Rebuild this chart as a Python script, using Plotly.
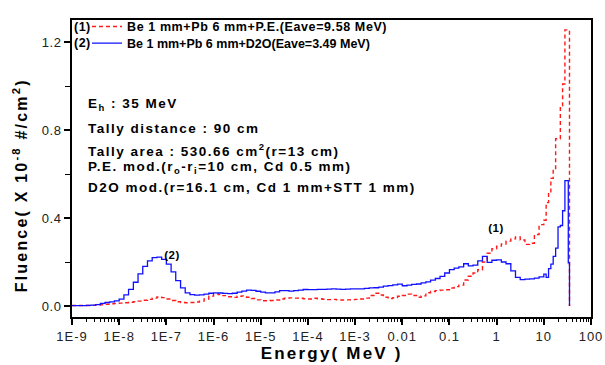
import plotly.graph_objects as go

# ---------------- data ----------------
# lower bin edges in MeV (histogram steps), last entry closes the spectrum at 35 MeV
energy_mev = [
    1.00e-9, 1.26e-9, 1.58e-9, 2.00e-9, 2.51e-9, 3.16e-9, 3.98e-9, 5.01e-9, 6.31e-9, 7.94e-9,
    1.00e-8, 1.26e-8, 1.58e-8, 2.00e-8, 2.51e-8, 3.16e-8, 3.98e-8, 5.01e-8, 6.31e-8, 7.94e-8,
    1.00e-7, 1.26e-7, 1.58e-7, 2.00e-7, 2.51e-7, 3.16e-7, 3.98e-7, 5.01e-7, 6.31e-7, 7.94e-7,
    1.00e-6, 1.26e-6, 1.58e-6, 2.00e-6, 2.51e-6, 3.16e-6, 3.98e-6, 5.01e-6, 6.31e-6, 7.94e-6,
    1.00e-5, 1.26e-5, 1.58e-5, 2.00e-5, 2.51e-5, 3.16e-5, 3.98e-5, 5.01e-5, 6.31e-5, 7.94e-5,
    1.00e-4, 1.26e-4, 1.58e-4, 2.00e-4, 2.51e-4, 3.16e-4, 3.98e-4, 5.01e-4, 6.31e-4, 7.94e-4,
    1.00e-3, 1.26e-3, 1.58e-3, 2.00e-3, 2.51e-3, 3.16e-3, 3.98e-3, 5.01e-3, 6.31e-3, 7.94e-3,
    1.00e-2, 1.26e-2, 1.58e-2, 2.00e-2, 2.51e-2, 3.16e-2, 3.98e-2, 5.01e-2, 6.31e-2, 7.94e-2,
    1.00e-1, 1.26e-1, 1.58e-1, 2.00e-1, 2.51e-1, 3.16e-1, 3.98e-1, 5.01e-1, 6.31e-1, 7.94e-1,
    1.00, 1.26, 1.58, 2.00, 2.51, 3.16, 3.98, 5.01, 6.31, 7.94,
    10.0, 11.2, 12.6, 14.1, 15.8, 17.8, 20.0, 22.4, 25.0, 28.0, 33.0, 35.0,
]

# (1) Be 1 mm + Pb 6 mm + P.E.
fluence_pe = [
    0.002, 0.002, 0.002, 0.002, 0.003, 0.004, 0.006, 0.008, 0.010, 0.012,
    0.013, 0.015, 0.017, 0.019, 0.022, 0.026, 0.030, 0.036, 0.041, 0.038,
    0.032, 0.025, 0.019, 0.016, 0.015, 0.016, 0.018, 0.022, 0.032, 0.045,
    0.055, 0.052, 0.047, 0.042, 0.039, 0.044, 0.046, 0.040, 0.034, 0.028,
    0.024, 0.024, 0.025, 0.027, 0.032, 0.035, 0.037, 0.036, 0.035, 0.033,
    0.032, 0.035, 0.033, 0.031, 0.029, 0.030, 0.028, 0.027, 0.028, 0.029,
    0.030, 0.032, 0.036, 0.048, 0.058, 0.050, 0.040, 0.034, 0.038, 0.044,
    0.048, 0.054, 0.048, 0.040, 0.046, 0.060, 0.066, 0.070, 0.072, 0.074,
    0.082, 0.088, 0.095, 0.118, 0.135, 0.150, 0.165, 0.200, 0.240, 0.260,
    0.272, 0.282, 0.295, 0.305, 0.314, 0.300, 0.280, 0.285, 0.325, 0.370,
    0.390, 0.470, 0.510, 0.580, 0.620, 0.760, 0.760, 0.910, 1.009, 1.255, 1.255, 0.0,
]

# (2) Be 1 mm + Pb 6 mm + D2O
fluence_d2o = [
    0.002, 0.002, 0.002, 0.003, 0.004, 0.006, 0.012, 0.016, 0.019, 0.023,
    0.031, 0.051, 0.076, 0.108, 0.146, 0.180, 0.205, 0.220, 0.222, 0.212,
    0.190, 0.155, 0.115, 0.082, 0.060, 0.052, 0.049, 0.051, 0.054, 0.058,
    0.060, 0.059, 0.057, 0.056, 0.058, 0.063, 0.068, 0.072, 0.071, 0.067,
    0.063, 0.060, 0.060, 0.064, 0.070, 0.070, 0.068, 0.070, 0.072, 0.075,
    0.074, 0.074, 0.076, 0.076, 0.077, 0.078, 0.077, 0.076, 0.077, 0.078,
    0.078, 0.078, 0.080, 0.082, 0.083, 0.086, 0.090, 0.093, 0.096, 0.099,
    0.092, 0.095, 0.098, 0.100, 0.105, 0.110, 0.118, 0.125, 0.135, 0.150,
    0.165, 0.172, 0.178, 0.192, 0.182, 0.186, 0.205, 0.226, 0.198, 0.208,
    0.210, 0.200, 0.192, 0.160, 0.130, 0.120, 0.122, 0.123, 0.127, 0.132,
    0.145, 0.130, 0.170, 0.190, 0.226, 0.263, 0.360, 0.366, 0.433, 0.570, 0.196, 0.0,
]

series_names = [
    "Be 1 mm+Pb 6 mm+P.E.(Eave=9.58 MeV)",
    "Be 1 mm+Pb 6 mm+D2O(Eave=3.49 MeV)",
]
series_tags = ["(1)", "(2)"]

x_tick_vals = [1e-9, 1e-8, 1e-7, 1e-6, 1e-5, 1e-4, 1e-3, 1e-2, 1e-1, 1, 10, 100]
x_tick_text = ["1E-9", "1E-8", "1E-7", "1E-6", "1E-5", "1E-4", "1E-3", "0.01", "0.1", "1", "10", "100"]
y_tick_vals = [0.0, 0.4, 0.8, 1.2]
y_tick_text = ["0.0", "0.4", "0.8", "1.2"]

info_lines = [
    "E<sub>h</sub> : 35 MeV",
    "Tally distance : 90 cm",
    "Tally area : 530.66 cm<sup>2</sup>(r=13 cm)",
    "P.E. mod.(r<sub>o</sub>-r<sub>i</sub>=10 cm, Cd 0.5 mm)",
    "D2O mod.(r=16.1 cm, Cd 1 mm+STT 1 mm)",
]

# ---------------- figure ----------------
FONT = "Liberation Sans, Arial, sans-serif"
minor_x = [m * 10.0 ** d for d in range(-9, 2) for m in range(2, 10)]
minor_y = [0.2, 0.6, 1.0]

fig = go.Figure()
fig.add_trace(go.Scatter(
    x=energy_mev, y=fluence_pe, mode="lines", line_shape="hv", name=series_names[0],
    line=dict(color="#ff1a1a", width=1.4, dash="4px,3px"), legend="legend",
))
fig.add_trace(go.Scatter(
    x=energy_mev, y=fluence_d2o, mode="lines", line_shape="hv", name=series_names[1],
    line=dict(color="#1010ff", width=1.3), legend="legend2",
))

axis_common = dict(showgrid=False, zeroline=False, linecolor="black", automargin=False)
legend_font = dict(family=FONT, size=12.5, color="black", weight="bold")
legend_common = dict(x=(87 - 72) / 519, xanchor="left", yanchor="middle",
                     bgcolor="rgba(0,0,0,0)", borderwidth=0, font=legend_font, itemwidth=30)
fig.update_layout(
    width=605, height=365,
    margin=dict(l=72, r=14, t=13, b=48),
    paper_bgcolor="white", plot_bgcolor="white",
    font=dict(family=FONT, color="black"),
    xaxis=dict(
        type="log", range=[-9, 2], showline=True, linewidth=2, mirror=True,
        tickmode="array", tickvals=x_tick_vals, ticktext=x_tick_text,
        ticks="outside", ticklen=6, tickwidth=1.5, tickcolor="black",
        tickfont=dict(size=13, color="#222"),
        minor=dict(tickmode="array", tickvals=minor_x, ticks="outside", ticklen=3, tickwidth=1.2, tickcolor="black"),
        **axis_common,
    ),
    yaxis=dict(
        range=[-0.05, 1.3], showline=True, linewidth=2, mirror=True,
        tickmode="array", tickvals=y_tick_vals, ticktext=y_tick_text,
        ticks="outside", ticklen=6, tickwidth=1.5, tickcolor="black",
        tickfont=dict(size=13, color="#222"),
        minor=dict(tickmode="array", tickvals=minor_y, ticks="outside", ticklen=5, tickwidth=1.2, tickcolor="black"),
        **axis_common,
    ),
    xaxis2=dict(
        type="log", range=[-9, 2], overlaying="x", side="top", showticklabels=False,
        tickmode="array", tickvals=x_tick_vals, ticks="inside", ticklen=5, tickwidth=1.2, tickcolor="black",
        **axis_common,
    ),
    yaxis2=dict(
        range=[-0.05, 1.3], overlaying="y", side="right", showticklabels=False,
        tickmode="array", tickvals=y_tick_vals + minor_y, ticks="inside", ticklen=5, tickwidth=1.2, tickcolor="black",
        **axis_common,
    ),
    showlegend=True,
    legend=dict(y=(317 - 20) / 304, **legend_common),
    legend2=dict(y=(317 - 37) / 304, **legend_common),
)

annotations = []
# legend prefixes
for i, lab in enumerate(series_tags):
    annotations.append(dict(
        xref="paper", yref="paper", x=0.0, y=(317 - (20 + 17 * i)) / 304,
        text=lab, showarrow=False, xanchor="left", yanchor="middle", align="left",
        font=dict(family=FONT, size=12.5, color="black", weight="bold"),
    ))
# info block
info_y = [99, 124, 146, 164, 184]
for txt, py in zip(info_lines, info_y):
    annotations.append(dict(
        xref="paper", yref="paper", x=(86 - 72) / 519, y=(317 - py) / 304,
        text=txt, showarrow=False, xanchor="left", yanchor="middle", align="left",
        font=dict(family=FONT, size=13.5, color="black", weight="bold"),
    ))
# curve labels
annotations.append(dict(x=-6.88, y=0.234, xref="x", yref="y", text=series_tags[1], showarrow=False,
                        font=dict(family=FONT, size=11.5, color="black", weight="bold")))
annotations.append(dict(x=-0.02, y=0.354, xref="x", yref="y", text=series_tags[0], showarrow=False,
                        font=dict(family=FONT, size=11.5, color="black", weight="bold")))
# axis titles
annotations.append(dict(
    xref="paper", yref="paper", x=0.5, y=(317 - 354) / 304, text="Energy( MeV )",
    showarrow=False, xanchor="center", yanchor="middle",
    font=dict(family=FONT, size=17, color="black", weight="bold"),
))
annotations.append(dict(
    xref="paper", yref="paper", x=(20 - 72) / 519, y=(317 - 182) / 304,
    text="Fluence( X 10<sup>-8</sup> #/cm<sup>2</sup>)", textangle=-90,
    showarrow=False, xanchor="center", yanchor="middle",
    font=dict(family=FONT, size=16, color="black", weight="bold"),
))
fig.update_layout(annotations=annotations)

post_js = """
document.body.style.margin = '0';
var gd = document.getElementById('{plot_id}');
function ls(sel, v) { gd.querySelectorAll(sel).forEach(function (t) { t.style.letterSpacing = v; }); }
ls('.legendtext', '0.6px');
ls('.xtick text', '1px');
ls('.ytick text', '0.5px');
gd.querySelectorAll('.annotation-text').forEach(function (t) {
    var fs = parseFloat(t.style.fontSize || '12');
    var v = fs >= 16 ? '2.2px' : (fs >= 13 ? '1.5px' : '0.5px');
    t.style.letterSpacing = v;
});
gd.querySelectorAll('.legend, .legend [clip-path]').forEach(function (e) { e.removeAttribute('clip-path'); });
"""

fig.write_html("out.html", post_script=post_js, config={"displayModeBar": False})
